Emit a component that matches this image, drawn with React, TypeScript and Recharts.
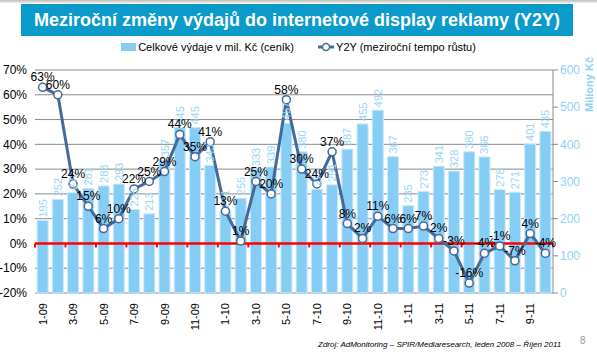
import {Bar, CartesianGrid, ComposedChart, LabelList, Line, ReferenceLine, XAxis, YAxis} from 'recharts';

const months = [
    '1-09', '2-09', '3-09', '4-09', '5-09', '6-09', '7-09', '8-09', '9-09', '10-09', '11-09', '12-09',
    '1-10', '2-10', '3-10', '4-10', '5-10', '6-10', '7-10', '8-10', '9-10', '10-10', '11-10', '12-10',
    '1-11', '2-11', '3-11', '4-11', '5-11', '6-11', '7-11', '8-11', '9-11', '10-11',
];

// Celkové výdaje v mil. Kč (ceník)
const spend = [
    195, 252, 270, 281, 288, 293, 225, 213, 357, 445, 445, 343,
    221, 255, 333, 339, 457, 380, 279, 291, 387, 455, 492, 367,
    235, 273, 341, 328, 380, 366, 278, 271, 401, 435,
];

// Y2Y (meziroční tempo růstu), %
const growth = [
    63, 60, 24, 15, 6, 10, 22, 25, 29, 44, 35, 41,
    13, 1, 25, 20, 58, 30, 24, 37, 8, 2, 11, 6,
    6, 7, 2, -3, -16, -4, -1, -7, 4, -4,
];

const leftTicks = [-20, -10, 0, 10, 20, 30, 40, 50, 60, 70];
const rightTicks = [0, 100, 200, 300, 400, 500, 600];

const data = months.map((m, i) => ({month: m, spend: spend[i], growth: growth[i]}));

const BAR = '#86CDF6';
const LINE = '#46699B';
const FONT = '"Liberation Sans", Arial, sans-serif';

const BarValue = (props: any) => {
    const {x, y, width, value} = props;
    const cx = x + width / 2 + 4;
    const ty = y - 3;
    return (
        <text x={cx} y={ty} transform={`rotate(-90 ${cx} ${ty})`} textAnchor="start"
              fill="#9AD5F6" fontSize={11} fontFamily={FONT}>{value}</text>
    );
};

const MonthTick = (props: any) => {
    const {x, y, payload} = props;
    const tx = x + 4;
    const ty = y + 2;
    return (
        <text x={tx} y={ty} transform={`rotate(-90 ${tx} ${ty})`} textAnchor="end"
              fill="#000" fontSize={11} fontFamily={FONT}>{payload.value}</text>
    );
};

// zero line with small ticks between every second month
const ZeroLine = (props: any) => {
    const {x1, y1, x2} = props;
    const step = (x2 - x1) / months.length * 2;
    const ticks = [];
    for (let i = 0; i <= months.length / 2; i++) {
        const tx = x1 + i * step;
        ticks.push(<line key={i} x1={tx} x2={tx} y1={y1} y2={y1 + 4} stroke="#FF0000" strokeWidth={2}/>);
    }
    return (
        <g>
            <line x1={x1} x2={x2} y1={y1} y2={y1} stroke="#FF0000" strokeWidth={2.5}/>
            {ticks}
        </g>
    );
};

export default function App() {
    return (
        <div style={{position: 'absolute', left: 0, top: 0, width: 597, height: 354, background: '#fff', fontFamily: FONT}}>
            <div style={{position: 'absolute', left: 0, top: 0, width: 597, height: 3, background: 'linear-gradient(#bbb, #eee)'}}/>
            <div style={{
                position: 'absolute', left: 21, top: 4, width: 552, height: 32, background: '#0A9BCB',
                color: '#fff', fontWeight: 'bold', fontSize: 18, lineHeight: '32px', textAlign: 'center',
                whiteSpace: 'nowrap', overflow: 'hidden',
            }}>
                Meziroční změny výdajů do internetové display reklamy (Y2Y)
            </div>

            <div style={{position: 'absolute', top: 41, left: 0, width: 597, display: 'flex', justifyContent: 'center', fontSize: 11, color: '#000'}}>
                <div style={{display: 'flex', alignItems: 'center', marginRight: 24}}>
                    <span style={{display: 'inline-block', width: 15, height: 8, background: BAR, marginRight: 2}}/>
                    Celkové výdaje v mil. Kč (ceník)
                </div>
                <div style={{display: 'flex', alignItems: 'center'}}>
                    <svg width={16} height={10} style={{marginRight: 2}}>
                        <line x1={0} x2={16} y1={5} y2={5} stroke={LINE} strokeWidth={3}/>
                        <circle cx={8} cy={5} r={3.5} fill="#fff" stroke={LINE} strokeWidth={1.5}/>
                    </svg>
                    Y2Y (meziroční tempo růstu)
                </div>
            </div>

            <div style={{position: 'absolute', left: 0, top: 0}}>
                <ComposedChart width={597} height={354} data={data} barCategoryGap="14%"
                               margin={{top: 70, right: 0, left: 0, bottom: 0}}>
                    <CartesianGrid vertical={false} stroke="#8A8A8A" yAxisId="left"/>
                    <XAxis dataKey="month" interval={1} height={61} tick={<MonthTick/>} tickLine={false} axisLine={false}/>
                    <YAxis yAxisId="left" domain={[-20, 70]} ticks={leftTicks} width={35}
                           tickFormatter={(v: number) => `${v}%`} axisLine={false} tickLine={false}
                           tick={{fill: '#000', fontSize: 12, fontFamily: FONT}}/>
                    <YAxis yAxisId="right" orientation="right" domain={[0, 600]} ticks={rightTicks} width={44}
                           axisLine={{stroke: '#8A8A8A'}} tickLine={{stroke: '#8A8A8A'}} tickSize={5}
                           tick={{fill: '#8FD0F5', fontSize: 12, fontFamily: FONT}}/>
                    <Bar yAxisId="right" dataKey="spend" fill={BAR} stroke="#C9E8FB" strokeWidth={1} isAnimationActive={false}>
                        <LabelList dataKey="spend" content={<BarValue/>}/>
                    </Bar>
                    <ReferenceLine yAxisId="left" y={0} shape={(p: any) => <ZeroLine {...p}/>}/>
                    <Line yAxisId="left" dataKey="growth" stroke={LINE} strokeWidth={3} isAnimationActive={false}
                          dot={{r: 4, fill: '#fff', stroke: LINE, strokeWidth: 1.5}}>
                        <LabelList dataKey="growth" position="top" offset={6} fill="#000" fontSize={12}
                                   fontFamily={FONT} formatter={(v: any) => `${v}%`}/>
                    </Line>
                </ComposedChart>
            </div>

            <div style={{position: 'absolute', left: 583, top: 112, transform: 'rotate(-90deg)', transformOrigin: '0 0',
                color: '#8FD0F5', fontSize: 11, fontWeight: 'bold', whiteSpace: 'nowrap'}}>
                Miliony Kč
            </div>
            <div style={{position: 'absolute', left: 318, top: 340, fontSize: 8, fontStyle: 'italic', color: '#000', whiteSpace: 'nowrap'}}>
                Zdroj: AdMonitoring – SPIR/Mediaresearch, leden 2008 – Říjen 2011
            </div>
            <div style={{position: 'absolute', left: 580, top: 335, fontSize: 10, color: '#999'}}>8</div>
        </div>
    );
}
